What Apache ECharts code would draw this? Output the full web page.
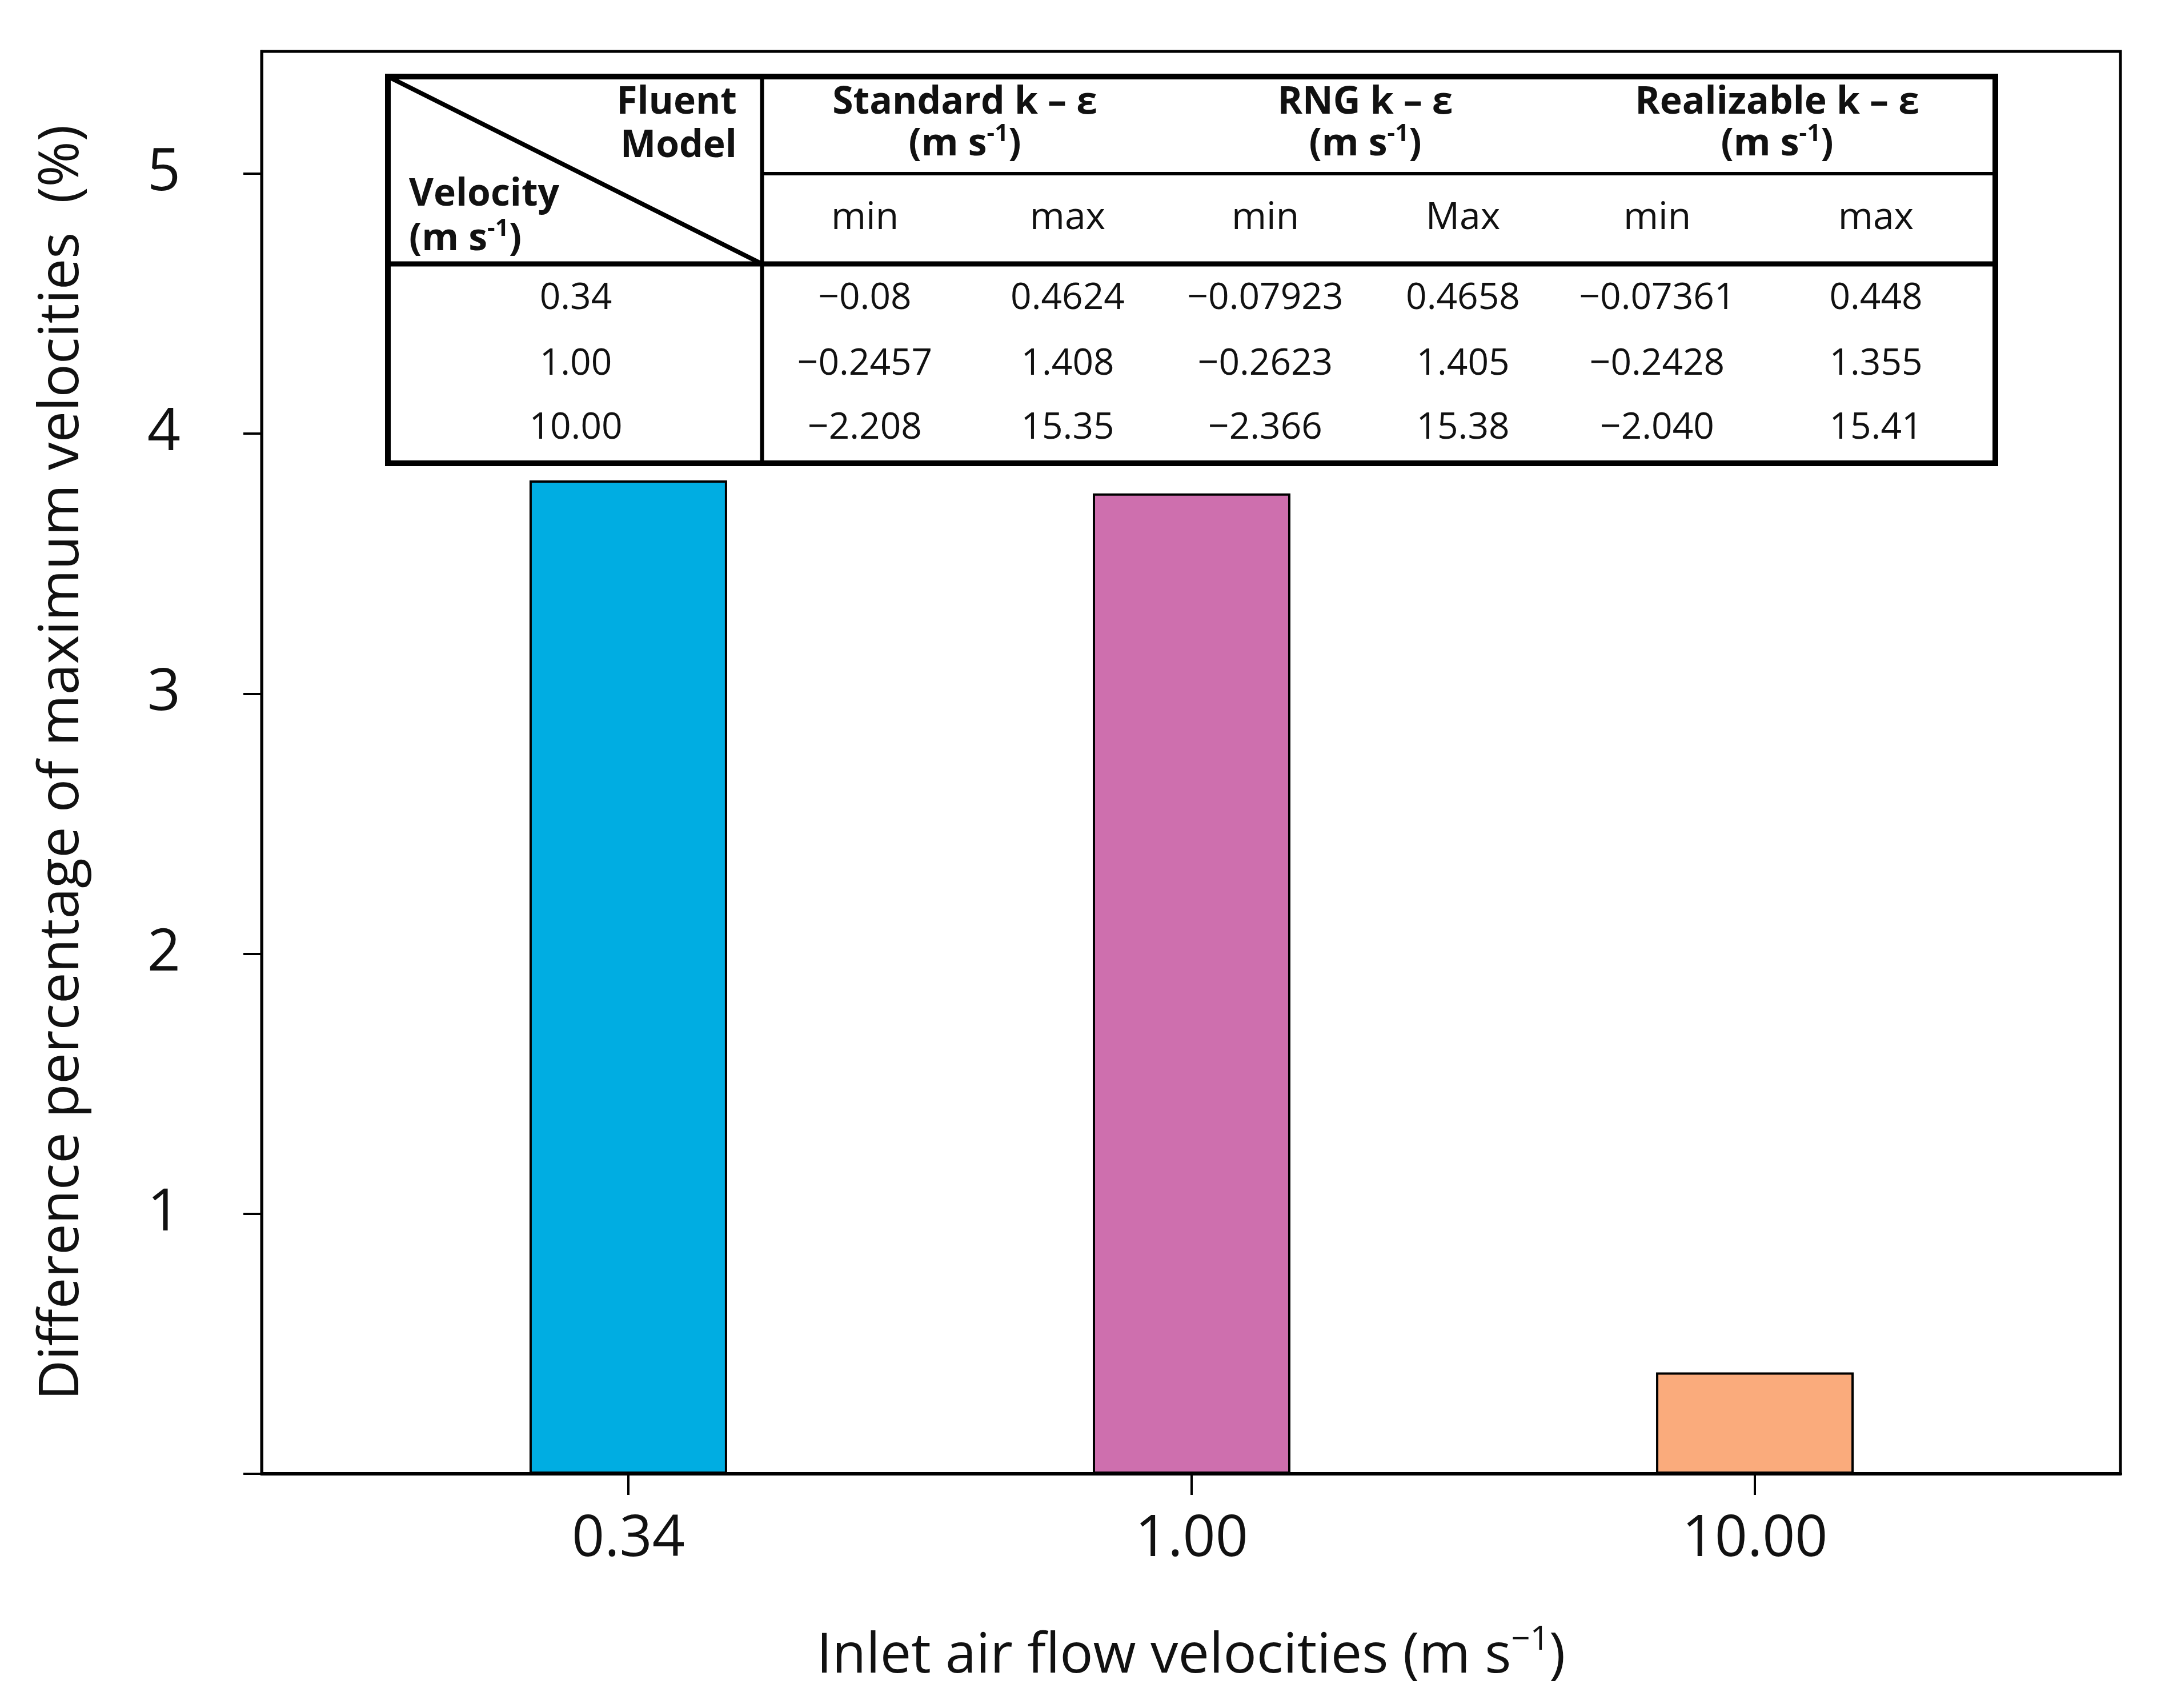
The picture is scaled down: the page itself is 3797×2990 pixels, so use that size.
<!DOCTYPE html>
<html><head><meta charset="utf-8">
<script src="https://cdn.jsdelivr.net/npm/echarts@6/dist/echarts.min.js"></script>
<style>html,body{margin:0;padding:0;background:#fff}#c{width:3797px;height:2990px}</style>
</head><body><div id="c"></div>
<script>
// ---- data ----
const categories = ['0.34', '1.00', '10.00'];
const values = [3.82, 3.77, 0.39];
const barColors = ['#00ADE2', '#CE6FAE', '#FAAB7C'];
const yTickValues = [0, 1, 2, 3, 4, 5];
const yLabelValues = [1, 2, 3, 4, 5];
const modelNames = ['Standard k \u2013 \u03b5', 'RNG k \u2013 \u03b5', 'Realizable k \u2013 \u03b5'];
const subHeaders = ['min', 'max', 'min', 'Max', 'min', 'max'];
const tableVelocities = ['0.34', '1.00', '10.00'];
const row034 = ['\u22120.08', '0.4624', '\u22120.07923', '0.4658', '\u22120.07361', '0.448'];
const row100 = ['\u22120.2457', '1.408', '\u22120.2623', '1.405', '\u22120.2428', '1.355'];
const row1000 = ['\u22122.208', '15.35', '\u22122.366', '15.38', '\u22122.040', '15.41'];
const tableRows = [row034, row100, row1000];

// ---- layout ----
const FONT = 'Open Sans';
const W = 3797, H = 2990;
const G = {left: 458, right: 85, top: 90, bottom: 410};
const T = {x0: 679, y0: 134, x1: 3493, y1: 811, colX: 1334, yH1: 304, yH2: 462};
const modelCenters = [1689, 2390, 3111];
const subCenters = [1514, 1869, 2215, 2561, 2901, 3284];
const rowYs = [523, 638, 750];
const TFS = 64;
const HFS = 66;

const chart = echarts.init(document.getElementById('c'), null, {renderer: 'canvas', width: W, height: H});

const g = [];
g.push({type: 'rect', shape: {x: T.x0, y: T.y0, width: T.x1 - T.x0, height: T.y1 - T.y0},
  style: {fill: '#fff', stroke: '#000', lineWidth: 10}, z: 100});
g.push({type: 'line', shape: {x1: T.colX, y1: T.y0, x2: T.colX, y2: T.y1}, style: {stroke: '#000', lineWidth: 7}, z: 101});
g.push({type: 'line', shape: {x1: T.colX, y1: T.yH1, x2: T.x1, y2: T.yH1}, style: {stroke: '#000', lineWidth: 6}, z: 101});
g.push({type: 'line', shape: {x1: T.x0, y1: T.yH2, x2: T.x1, y2: T.yH2}, style: {stroke: '#000', lineWidth: 9}, z: 101});
g.push({type: 'line', shape: {x1: T.x0, y1: T.y0, x2: T.colX, y2: T.yH2}, style: {stroke: '#000', lineWidth: 8}, z: 101});

function txt(x, y, text, opt) {
  g.push({type: 'text', x: x, y: y, z: 102, style: Object.assign({
    text: text, fontFamily: FONT, fontSize: TFS, fill: '#111', align: 'center', verticalAlign: 'middle'
  }, opt || {})});
}
const unitRich = {
  b: {fontFamily: FONT, fontSize: HFS, fontWeight: 'bold', lineHeight: 78, fill: '#111'},
  s: {fontFamily: FONT, fontSize: 42, fontWeight: 'bold', lineHeight: 44, verticalAlign: 'top', fill: '#111'}
};
txt(1290, 180, 'Fluent', {fontWeight: 'bold', fontSize: HFS, align: 'right'});
txt(1290, 256, 'Model', {fontWeight: 'bold', fontSize: HFS, align: 'right'});
txt(716, 341, 'Velocity', {fontWeight: 'bold', fontSize: HFS, align: 'left'});
txt(716, 419, '{b|(m s}{s|-1}{b|)}', {align: 'left', rich: unitRich});
modelNames.forEach((m, i) => {
  txt(modelCenters[i], 180, m, {fontWeight: 'bold', fontSize: HFS});
  txt(modelCenters[i], 253, '{b|(m s}{s|-1}{b|)}', {rich: unitRich});
});
subHeaders.forEach((s, i) => txt(subCenters[i], 382, s, {fontSize: 66}));
tableVelocities.forEach((v, r) => txt(1008, rowYs[r], v));
tableRows.forEach((row, r) => row.forEach((v, c) => txt(subCenters[c], rowYs[r], v)));

const option = {
  backgroundColor: '#fff',
  animation: false,
  grid: {left: G.left, right: G.right, top: G.top, bottom: G.bottom, show: true, borderColor: '#000', borderWidth: 5},
  xAxis: {
    type: 'value', min: -0.651, max: 2.649,
    splitLine: {show: false},
    axisLine: {show: true, onZero: false, lineStyle: {color: '#000', width: 6}},
    axisTick: {show: true, customValues: [0, 1, 2], length: 37, lineStyle: {color: '#000', width: 4}},
    axisLabel: {customValues: [0, 1, 2], formatter: v => categories[Math.round(v)] || '', margin: 66,
      fontFamily: FONT, fontSize: 100, color: '#111'},
    name: '{n|Inlet air flow velocities (m s}{s|\u22121}{n|)}',
    nameLocation: 'middle', nameGap: 262,
    nameTextStyle: {rich: {
      n: {fontFamily: FONT, fontSize: 97, lineHeight: 116, color: '#111'},
      s: {fontFamily: FONT, fontSize: 58, lineHeight: 62, verticalAlign: 'top', color: '#111'}
    }}
  },
  yAxis: {
    type: 'value', min: 0, max: 5.47,
    splitLine: {show: false},
    axisLine: {show: true, onZero: false, lineStyle: {color: '#000', width: 5}},
    axisTick: {show: true, customValues: yTickValues, length: 32, lineStyle: {color: '#000', width: 4}},
    axisLabel: {customValues: yLabelValues, margin: 142, fontFamily: FONT, fontSize: 102, color: '#111'},
    name: 'Difference percentage of maximum velocities  (%)',
    nameLocation: 'middle', nameGap: 300,
    nameTextStyle: {fontFamily: FONT, fontSize: 97, color: '#111'}
  },
  series: [{
    type: 'bar', barWidth: 346,
    data: values.map((v, i) => ({value: [i, v], itemStyle: {color: barColors[i]}})),
    itemStyle: {borderColor: '#000', borderWidth: 4}
  }],
  graphic: g
};
chart.setOption(option);
</script></body></html>
